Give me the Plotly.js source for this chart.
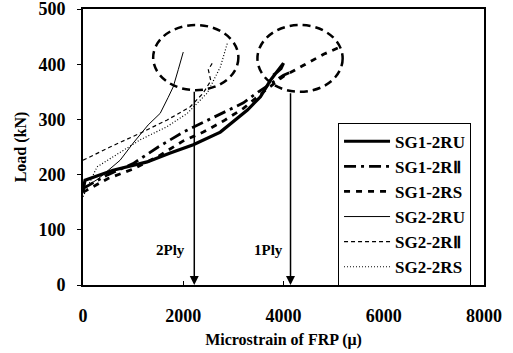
<!DOCTYPE html>
<html><head><meta charset="utf-8">
<script src="https://cdn.plot.ly/plotly-3.0.1.min.js"></script>
<style>body{margin:0;background:#fff}#c{width:513px;height:353px}</style>
</head><body><div id="c"></div>
<script>
const names = ["SG1-2RU", "SG1-2R\u2161", "SG1-2RS", "SG2-2RU", "SG2-2R\u2161", "SG2-2RS"];
const sg1RU_x = [0, 40, 600, 1280, 1740, 2200, 2740, 3280, 3540, 3740, 4000, 3950, 3800];
const sg1RU_y = [170, 190, 208, 223, 239, 254, 277, 317, 341, 371, 402, 392, 380];
const sg1RII_x = [0, 500, 1000, 1500, 2000, 2400, 2800, 3200, 3500, 3800, 4000, 4200];
const sg1RII_y = [175, 200, 220, 250, 277, 295, 313, 330, 350, 368, 380, 388];
const sg1RS_x = [0, 500, 1000, 1500, 2000, 2400, 2800, 3200, 3600, 4000, 4400, 4800, 5100];
const sg1RS_y = [168, 193, 210, 233, 261, 277, 297, 320, 350, 378, 398, 418, 430];
const sg2RU_x = [0, 300, 740, 1000, 1300, 1540, 1700, 1800, 1900, 2000];
const sg2RU_y = [175, 192, 226, 257, 290, 311, 340, 359, 390, 422];
const sg2RII_x = [0, 540, 1140, 1680, 2140, 2400, 2550, 2500, 2600];
const sg2RII_y = [226, 250, 275, 299, 323, 348, 370, 390, 405];
const sg2RS_x = [0, 280, 1140, 1680, 2080, 2480, 2740, 2880];
const sg2RS_y = [160, 214, 263, 287, 311, 348, 395, 438];
const xTicks = [0, 2000, 4000, 6000, 8000];
const yTicks = [0, 100, 200, 300, 400, 500];
const arrowX = [2220, 4140];
const arrowTop = [353, 350];
const plyLabels = ["2Ply", "1Ply"];
const plyLabelX = [1740, 3700];
const plyLabelY = [63, 63];
const ellipses = [[1400, 3100, 353, 471], [3480, 5180, 350, 471]];

const F = "Liberation Serif, Times New Roman, serif";
const mk = (x, y, n, w, d) => ({x: x, y: y, name: n, type: 'scatter', mode: 'lines',
  line: {color: '#000', width: w, dash: d}, legendgroup: n});
const data = [
  mk(sg1RU_x, sg1RU_y, names[0], 3.2, 'solid'),
  mk(sg1RII_x, sg1RII_y, names[1], 2.8, '12px,5px,3px,5px'),
  mk(sg1RS_x, sg1RS_y, names[2], 2.8, '6px,6px'),
  mk(sg2RU_x, sg2RU_y, names[3], 1, 'solid'),
  mk(sg2RII_x, sg2RII_y, names[4], 1.2, '4px,3px'),
  mk(sg2RS_x, sg2RS_y, names[5], 1.2, '1px,2px')
];
const annotations = [];
arrowX.forEach((x, i) => {
  annotations.push({x: x, y: 0, ax: x, ay: arrowTop[i], axref: 'x', ayref: 'y', xref: 'x', yref: 'y',
    text: '', showarrow: true, arrowhead: 2, arrowsize: 1.2, arrowwidth: 1.5, arrowcolor: '#000', standoff: 0});
  annotations.push({x: plyLabelX[i], y: plyLabelY[i], xref: 'x', yref: 'y', text: plyLabels[i],
    showarrow: false, font: {family: F, size: 15, color: '#000', weight: 'bold'}});
});
const shapes = ellipses.map(e => ({type: 'circle', xref: 'x', yref: 'y', x0: e[0], x1: e[1], y0: e[2], y1: e[3],
  line: {color: '#000', width: 2.5, dash: '8px,5px'}}));
const layout = {
  width: 513, height: 353, margin: {l: 83, r: 29, t: 9, b: 68},
  paper_bgcolor: '#fff', plot_bgcolor: '#fff',
  font: {family: F, size: 16, color: '#000', weight: 'bold'},
  showlegend: true,
  legend: {x: 0.636, y: 0.588, xanchor: 'left', yanchor: 'top', bordercolor: '#000', borderwidth: 1,
    bgcolor: '#fff', font: {family: F, size: 17, color: '#000', weight: 'bold'},
    itemwidth: 46, tracegroupgap: 0, traceorder: 'grouped'},
  xaxis: {range: [0, 8000], tickvals: xTicks, ticks: 'inside', ticklen: 4, tickcolor: '#000',
    showgrid: false, zeroline: false, showline: true, linecolor: '#000', linewidth: 2, mirror: true,
    tickfont: {family: F, size: 18, weight: 'bold'}, ticklabelstandoff: 13, ticklabeloverflow: 'allow',
    title: {text: 'Microstrain of FRP (\u03bc)', font: {family: F, size: 16, weight: 'bold'}, standoff: 9}},
  yaxis: {range: [0, 500], tickvals: yTicks, ticks: 'outside', ticklen: 4, tickcolor: '#000',
    showgrid: false, zeroline: false, showline: true, linecolor: '#000', linewidth: 2, mirror: true,
    tickfont: {family: F, size: 18, weight: 'bold'}, ticklabelstandoff: 8, ticklabeloverflow: 'allow',
    title: {text: 'Load (kN)', font: {family: F, size: 16, weight: 'bold'}, standoff: 8}},
  annotations: annotations, shapes: shapes
};
Plotly.newPlot('c', data, layout, {staticPlot: true, displayModeBar: false});
</script></body></html>
